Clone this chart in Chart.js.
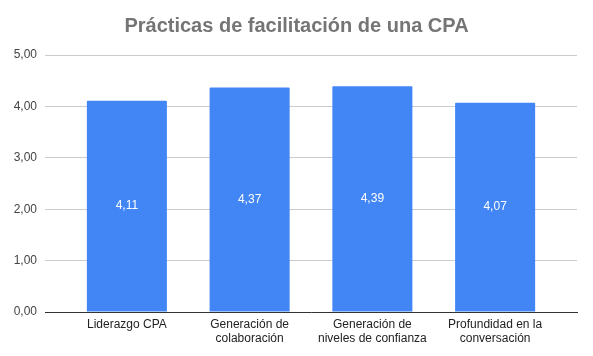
<!DOCTYPE html>
<html>
<head>
<meta charset="utf-8">
<script src="https://cdn.jsdelivr.net/npm/chart.js@4"></script>
<style>
html,body{margin:0;padding:0;background:#fff;}
#wrap{width:593px;height:356px;position:relative;}
</style>
</head>
<body>
<div id="wrap"><canvas id="c" width="593" height="356"></canvas></div>
<script>
const title = "Prácticas de facilitación de una CPA";
const categories = [
  ["Liderazgo CPA"],
  ["Generación de", "colaboración"],
  ["Generación de", "niveles de confianza"],
  ["Profundidad en la", "conversación"]
];
const values = [4.11, 4.37, 4.39, 4.07];
const yTicks = [0, 1, 2, 3, 4, 5];

const fmt = (v, d) => v.toFixed(d).replace('.', ',');

const points = values.map((v, i) => ({x: i, y: v}));

const barLabels = {
  id: 'barLabels',
  afterDatasetsDraw(chart) {
    const ctx = chart.ctx;
    const meta = chart.getDatasetMeta(0);
    ctx.save();
    ctx.fillStyle = '#ffffff';
    ctx.font = '12px "Liberation Sans", Arial, sans-serif';
    ctx.textAlign = 'center';
    ctx.textBaseline = 'middle';
    meta.data.forEach((bar, i) => {
      const p = bar.getProps(['x', 'y', 'base'], true);
      ctx.fillText(fmt(values[i], 2), p.x, (p.y + p.base) / 2);
    });
    ctx.restore();
  }
};

new Chart(document.getElementById('c'), {
  type: 'bar',
  data: {
    datasets: [{
      data: points,
      backgroundColor: '#4285F4',
      borderRadius: 1,
      borderSkipped: 'bottom',
      barPercentage: 0.652,
      categoryPercentage: 1
    }]
  },
  options: {
    responsive: false,
    animation: false,
    layout: {padding: {top: 4, right: 8, bottom: 0, left: 8}},
    plugins: {
      legend: {display: false},
      tooltip: {enabled: false},
      title: {
        display: true,
        text: title,
        color: '#757575',
        font: {family: '"Liberation Sans", Arial, sans-serif', size: 20, weight: 'bold', lineHeight: 1.2},
        padding: {top: 10, bottom: 17}
      }
    },
    scales: {
      x: {
        type: 'linear',
        offset: false,
        min: -0.667,
        max: 3.667,
        grid: {display: false, drawTicks: false},
        border: {display: true, color: '#333333', width: 1},
        afterBuildTicks(scale) {
          scale.ticks = categories.map((c, i) => ({value: i}));
        },
        afterFit(scale) { scale.height = 44; },
        ticks: {
          autoSkip: false,
          maxRotation: 0,
          padding: 5,
          color: '#222222',
          font: {family: '"Liberation Sans", Arial, sans-serif', size: 12, lineHeight: 1.2},
          callback: (v) => categories[v]
        }
      },
      y: {
        min: 0,
        max: 5,
        afterBuildTicks(scale) {
          scale.ticks = yTicks.map(v => ({value: v}));
        },
        afterFit(scale) { scale.width = 37; },
        grid: {color: '#cccccc', drawTicks: false},
        border: {display: false},
        ticks: {
          padding: 8,
          color: '#444444',
          font: {family: '"Liberation Sans", Arial, sans-serif', size: 12},
          callback: (v) => fmt(v, 2)
        }
      },
      yRight: {
        type: 'linear',
        position: 'right',
        min: 0,
        max: 5,
        grid: {display: false, drawTicks: false},
        border: {display: false},
        ticks: {display: false},
        afterFit(scale) { scale.width = 8; }
      }
    }
  },
  plugins: [barLabels]
});
</script>
</body>
</html>
